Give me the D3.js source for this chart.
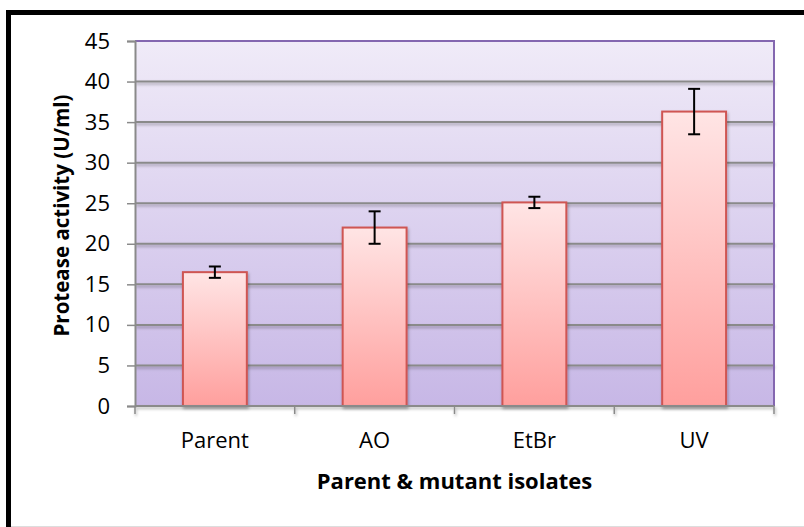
<!DOCTYPE html>
<html>
<head>
<meta charset="utf-8">
<script src="https://cdn.jsdelivr.net/npm/d3@7"></script>
<style>
  body { margin: 0; background: #fff; }
  svg { display: block; }
</style>
</head>
<body>
<svg id="chart"></svg>
<script>
const categories = ["Parent", "AO", "EtBr", "UV"];
const activity = [16.5, 22.0, 25.1, 36.3];
const errors = [0.7, 2.0, 0.7, 2.8];
const yTicks = [0, 5, 10, 15, 20, 25, 30, 35, 40, 45];

const width = 804;
const height = 527;
const margin = { top: 41, right: 30, bottom: 121, left: 135 };
const font = "'Open Sans', sans-serif";

const svg = d3.select("#chart").attr("width", width).attr("height", height);
const defs = svg.append("defs");

// plot area gradient (lavender)
const bg = defs.append("linearGradient").attr("id", "bg")
  .attr("x1", 0).attr("y1", 0).attr("x2", 0).attr("y2", 1);
bg.append("stop").attr("offset", "0%").attr("stop-color", "#f0ebf8");
bg.append("stop").attr("offset", "100%").attr("stop-color", "#c7b7e6");

// bar gradient (pink)
const barg = defs.append("linearGradient").attr("id", "barg")
  .attr("x1", 0).attr("y1", 0).attr("x2", 0).attr("y2", 1);
barg.append("stop").attr("offset", "0%").attr("stop-color", "#ffe5e5");
barg.append("stop").attr("offset", "100%").attr("stop-color", "#ff9f9d");

// userSpaceOnUse so thin horizontal lines don't vanish
const shadow = defs.append("filter").attr("id", "shadow")
  .attr("filterUnits", "userSpaceOnUse")
  .attr("x", 0).attr("y", 0).attr("width", width).attr("height", height);
shadow.append("feDropShadow").attr("dx", 1).attr("dy", 2)
  .attr("stdDeviation", 1.5).attr("flood-color", "#000").attr("flood-opacity", 0.3);

const x = d3.scaleBand()
  .domain(categories)
  .range([margin.left, width - margin.right])
  .padding(0);

const y = d3.scaleLinear()
  .domain([0, 45])
  .range([height - margin.bottom, margin.top]);

const barW = x.bandwidth() * 0.4;
const x0 = margin.left, x1 = width - margin.right;
const yb = y(0), yt = y(45);

// plot background
svg.append("rect")
  .attr("x", x0).attr("y", yt)
  .attr("width", x1 - x0).attr("height", yb - yt)
  .attr("fill", "url(#bg)");

// gridlines
svg.append("g")
  .attr("filter", "url(#shadow)")
  .selectAll("line")
  .data(yTicks.filter((d) => d > 0 && d < 45))
  .join("line")
  .attr("x1", x0).attr("x2", x1)
  .attr("y1", (d) => y(d)).attr("y2", (d) => y(d))
  .attr("stroke", "#8a8a8a")
  .attr("stroke-width", 2);

// purple plot border (top & right)
svg.append("path")
  .attr("d", `M${x0},${yt}H${x1}V${yb}`)
  .attr("fill", "none")
  .attr("stroke", "#8467b0")
  .attr("stroke-width", 2);

// bars
svg.append("g")
  .attr("filter", "url(#shadow)")
  .selectAll("rect")
  .data(categories)
  .join("rect")
  .attr("x", (d) => x(d) + (x.bandwidth() - barW) / 2)
  .attr("y", (d, i) => y(activity[i]))
  .attr("width", barW)
  .attr("height", (d, i) => yb - y(activity[i]))
  .attr("fill", "url(#barg)")
  .attr("stroke", "#cf5552")
  .attr("stroke-width", 2);

// x axis line + ticks at band edges
const xAx = svg.append("g").attr("filter", "url(#shadow)");
xAx.append("line")
  .attr("x1", x0).attr("x2", x1)
  .attr("y1", yb).attr("y2", yb)
  .attr("stroke", "#8a8a8a")
  .attr("stroke-width", 2);
xAx.selectAll("line.tk")
  .data(categories.concat(["end"]))
  .join("line")
  .attr("class", "tk")
  .attr("x1", (d, i) => x0 + i * x.bandwidth())
  .attr("x2", (d, i) => x0 + i * x.bandwidth())
  .attr("y1", yb).attr("y2", yb + 8)
  .attr("stroke", "#8a8a8a")
  .attr("stroke-width", 1.5);

// y axis
const yAxis = svg.append("g")
  .attr("transform", `translate(${x0},0)`)
  .call(d3.axisLeft(y).tickValues(yTicks).tickSize(8).tickPadding(17));
yAxis.select(".domain").attr("stroke", "#8a8a8a").attr("stroke-width", 2);
yAxis.selectAll(".tick line").attr("stroke", "#8a8a8a").attr("stroke-width", 1.5);
yAxis.selectAll(".tick text")
  .style("font-family", font)
  .style("font-size", "22px")
  .attr("fill", "#000");

// error bars
const err = svg.append("g")
  .selectAll("g")
  .data(categories)
  .join("g")
  .attr("stroke", "#000")
  .attr("stroke-width", 2);
err.append("line")
  .attr("x1", (d) => x(d) + x.bandwidth() / 2)
  .attr("x2", (d) => x(d) + x.bandwidth() / 2)
  .attr("y1", (d, i) => y(activity[i] + errors[i]))
  .attr("y2", (d, i) => y(activity[i] - errors[i]));
err.selectAll("line.cap")
  .data((d) => {
    const i = categories.indexOf(d);
    return [activity[i] + errors[i], activity[i] - errors[i]].map((v) => ({ d, v }));
  })
  .join("line")
  .attr("class", "cap")
  .attr("x1", (c) => x(c.d) + x.bandwidth() / 2 - 6)
  .attr("x2", (c) => x(c.d) + x.bandwidth() / 2 + 6)
  .attr("y1", (c) => y(c.v))
  .attr("y2", (c) => y(c.v));

// category labels
svg.append("g")
  .selectAll("text")
  .data(categories)
  .join("text")
  .attr("x", (d) => x(d) + x.bandwidth() / 2)
  .attr("y", yb + 42)
  .attr("text-anchor", "middle")
  .style("font-family", font)
  .style("font-size", "22px")
  .text((d) => d);

// axis titles
svg.append("text")
  .attr("x", (x0 + x1) / 2)
  .attr("y", 489)
  .attr("text-anchor", "middle")
  .style("font-family", font)
  .style("font-size", "22px")
  .style("font-weight", "bold")
  .text("Parent & mutant isolates");

svg.append("text")
  .attr("transform", `translate(69,${(yt + yb) / 2 - 8}) rotate(-90)`)
  .attr("text-anchor", "middle")
  .style("font-family", font)
  .style("font-size", "20.5px")
  .style("font-weight", "bold")
  .text("Protease activity (U/ml)");

// outer frame
svg.append("rect")
  .attr("x", 8.5).attr("y", 12.5)
  .attr("width", 800).attr("height", 530)
  .attr("fill", "none")
  .attr("stroke", "#000")
  .attr("stroke-width", 5);
svg.append("line")
  .attr("x1", 11).attr("x2", width)
  .attr("y1", 526.5).attr("y2", 526.5)
  .attr("stroke", "#ddd");
</script>
</body>
</html>
